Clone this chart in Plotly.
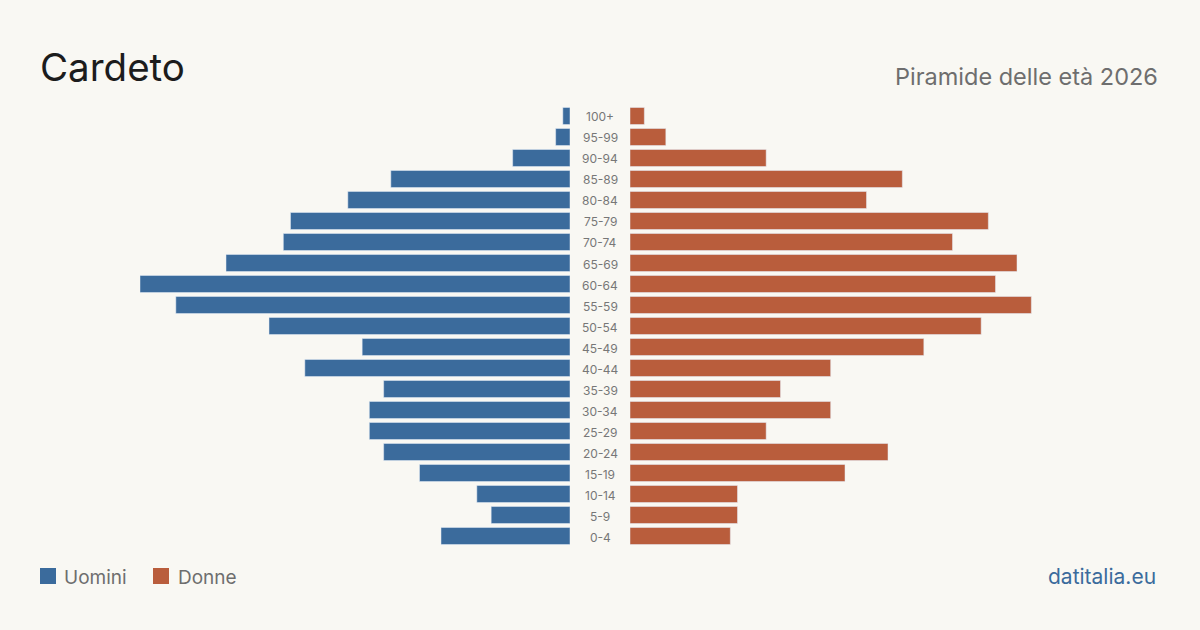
import plotly.graph_objects as go

ages = ["0-4", "5-9", "10-14", "15-19", "20-24", "25-29", "30-34", "35-39", "40-44", "45-49",
        "50-54", "55-59", "60-64", "65-69", "70-74", "75-79", "80-84", "85-89", "90-94", "95-99", "100+"]
men = [18, 11, 13, 21, 26, 28, 28, 26, 37, 29, 42, 55, 60, 48, 40, 39, 31, 25, 8, 2, 1]
women = [14, 15, 15, 30, 36, 19, 28, 21, 28, 41, 49, 56, 51, 54, 45, 50, 33, 38, 19, 5, 2]

title = "Cardeto"
subtitle = "Piramide delle età 2026"
source = "datitalia.eu"
series_names = ["Uomini", "Donne"]

W, H = 1200, 630
BLUE = "#3b6b9c"
ORANGE = "#b95d3c"
BG = "#f9f8f3"
FONT = "Inter"

def px(x):
    return x / W

def py(y):
    return 1 - y / H

fig = go.Figure()
fig.add_trace(go.Bar(y=ages, x=men, orientation="h", marker_color=BLUE, name=series_names[0],
                     xaxis="x", yaxis="y", showlegend=False,
                     hovertemplate="%{y}: %{x}<extra>Uomini</extra>"))
fig.add_trace(go.Bar(y=ages, x=women, orientation="h", marker_color=ORANGE, name=series_names[1],
                     xaxis="x2", yaxis="y", showlegend=False,
                     hovertemplate="%{y}: %{x}<extra>Donne</extra>"))

annotations = []
for a in ages:
    annotations.append(dict(x=0.5, xref="paper", y=a, yref="y", text=a, showarrow=False,
                            font=dict(family=FONT, size=12, color="#777777"),
                            xanchor="center", yanchor="middle", yshift=-1))

annotations += [
    dict(x=px(38), y=py(67), xref="paper", yref="paper", text=title, showarrow=False,
         xanchor="left", yanchor="middle", font=dict(family=FONT, size=38.5, color="#1c1c1c")),
    dict(x=px(1160), y=py(76), xref="paper", yref="paper", text=subtitle, showarrow=False,
         xanchor="right", yanchor="middle", font=dict(family=FONT, size=23.5, color="#6e6e6e")),
    dict(x=px(62), y=py(577), xref="paper", yref="paper", text=series_names[0], showarrow=False,
         xanchor="left", yanchor="middle", font=dict(family=FONT, size=19, color="#6e6e6e")),
    dict(x=px(176), y=py(577), xref="paper", yref="paper", text=series_names[1], showarrow=False,
         xanchor="left", yanchor="middle", font=dict(family=FONT, size=19, color="#6e6e6e")),
    dict(x=px(1158), y=py(576), xref="paper", yref="paper", text=source, showarrow=False,
         xanchor="right", yanchor="middle", font=dict(family=FONT, size=21, color=BLUE)),
]

shapes = [
    dict(type="rect", xref="paper", yref="paper", x0=px(40), x1=px(56), y0=py(584), y1=py(568),
         fillcolor=BLUE, line_width=0),
    dict(type="rect", xref="paper", yref="paper", x0=px(153), x1=px(169), y0=py(584), y1=py(568),
         fillcolor=ORANGE, line_width=0),
]

fig.update_layout(
    width=W, height=H,
    margin=dict(l=0, r=0, t=0, b=0),
    paper_bgcolor=BG, plot_bgcolor=BG,
    bargap=0.19,
    showlegend=False,
    xaxis=dict(domain=[px(140), px(570)], range=[60, 0], visible=False, fixedrange=True),
    xaxis2=dict(domain=[px(630), px(1060)], range=[0, 60], visible=False, fixedrange=True),
    yaxis=dict(domain=[py(546.5), py(105.5)], range=[-0.5, 20.5], visible=False,
               type="category", categoryorder="array", categoryarray=ages, fixedrange=True),
    annotations=annotations,
    shapes=shapes,
    font=dict(family=FONT),
)

fig.write_html("out.html", config={"displayModeBar": False})
